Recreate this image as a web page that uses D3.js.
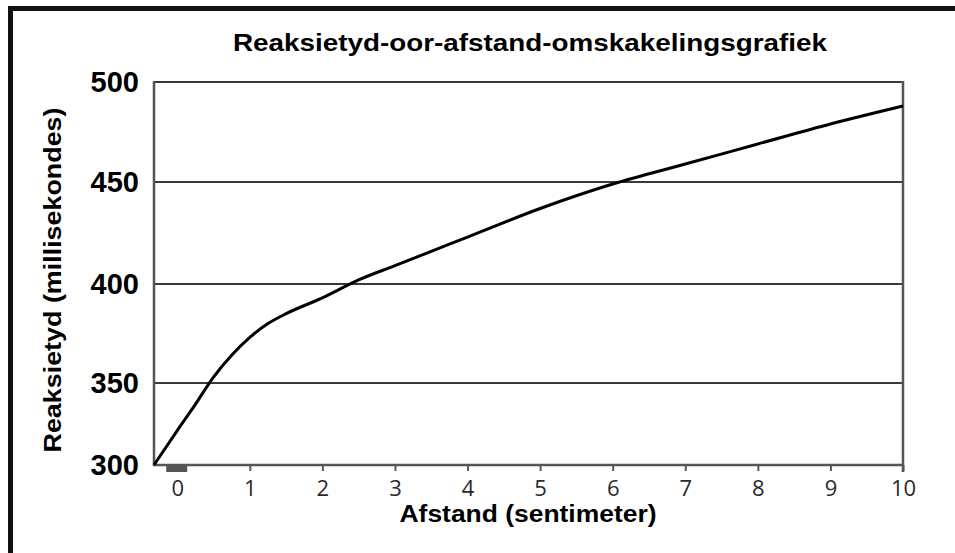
<!DOCTYPE html>
<html><head><meta charset="utf-8">
<script src="https://cdn.jsdelivr.net/npm/d3@7"></script>
<style>body{margin:0;background:#fff}svg{display:block}</style>
</head><body>
<svg id="c" width="955" height="553"></svg>
<script>
const title = "Reaksietyd-oor-afstand-omskakelingsgrafiek";
const xTitle = "Afstand (sentimeter)";
const yTitle = "Reaksietyd (millisekondes)";
const xTicks = [0,1,2,3,4,5,6,7,8,9,10];
const yTicks = [300,350,400,450,500];
const distance = [-0.32,0,0.25,0.5,0.75,1,1.25,1.5,2,2.5,3,3.5,4,5,6,7,8,9,10];
const reaction = [300,321,337,353,364,373,380,385,393,402,409,416,423,437,449,459,469,479,488];

const svg = d3.select("#c");
const x = d3.scaleLinear().domain([-0.32,10]).range([154,903]);
// the reference's vertical axis is not evenly spaced at the bottom
const y = d3.scaleLinear().domain(yTicks).range([465,383,284,182,82]);

// outer frame
svg.append("line").attr("x1",8).attr("x2",955).attr("y1",8.5).attr("y2",8.5).attr("stroke","#111").attr("stroke-width",5);
svg.append("line").attr("x1",10.5).attr("x2",10.5).attr("y1",6).attr("y2",553).attr("stroke","#111").attr("stroke-width",5);

// gridlines
svg.append("g").selectAll("line").data(yTicks.slice(1)).join("line")
  .attr("x1",154).attr("x2",903).attr("y1",d=>y(d)).attr("y2",d=>y(d))
  .attr("stroke","#3a3a3a").attr("stroke-width",2);

// plot frame
svg.append("line").attr("x1",154).attr("x2",154).attr("y1",81).attr("y2",466).attr("stroke","#555").attr("stroke-width",2.5);
svg.append("line").attr("x1",903).attr("x2",903).attr("y1",81).attr("y2",472).attr("stroke","#555").attr("stroke-width",2.5);
svg.append("line").attr("x1",153).attr("x2",904).attr("y1",465).attr("y2",465).attr("stroke","#555").attr("stroke-width",2.5);

// x axis ticks & labels
const xAxis = d3.axisBottom(x).tickValues(xTicks).tickSize(6).tickPadding(9).tickFormat(d3.format("d"));
const gx = svg.append("g").attr("transform","translate(0,465)").call(xAxis);
gx.select(".domain").remove();
gx.selectAll(".tick line").attr("stroke","#555").attr("stroke-width",2);
gx.selectAll(".tick text").attr("fill","#2a2a2a").attr("font-family","'Open Sans', sans-serif").attr("font-size",22);
// thick mark at zero
svg.append("rect").attr("x",x(0)-11).attr("y",466).attr("width",21).attr("height",6).attr("fill","#555");

// y labels
svg.append("g").selectAll("text").data(yTicks).join("text")
  .attr("x",139).attr("y",d=>y(d)).attr("dy","0.36em").attr("text-anchor","end")
  .attr("font-family","'Liberation Sans', Arial, sans-serif").attr("font-weight","bold").attr("font-size",29)
  .attr("fill","#000").text(d=>d);

// curve
const pts = distance.map((d,i)=>[d,reaction[i]]);
svg.append("path").datum(pts)
  .attr("d",d3.line().x(d=>x(d[0])).y(d=>y(d[1])).curve(d3.curveMonotoneX))
  .attr("fill","none").attr("stroke","#000").attr("stroke-width",3);

// titles
svg.append("text").attr("x",530).attr("y",51).attr("text-anchor","middle")
  .attr("font-family","'Liberation Sans', Arial, sans-serif").attr("font-weight","bold").attr("font-size",23)
  .attr("textLength",594).attr("lengthAdjust","spacingAndGlyphs")
  .text(title);
svg.append("text").attr("x",528).attr("y",522).attr("text-anchor","middle")
  .attr("font-family","'Liberation Sans', Arial, sans-serif").attr("font-weight","bold").attr("font-size",23)
  .attr("textLength",257).attr("lengthAdjust","spacingAndGlyphs")
  .text(xTitle);
svg.append("text").attr("transform","translate(61,280) rotate(-90)").attr("text-anchor","middle")
  .attr("font-family","'Liberation Sans', Arial, sans-serif").attr("font-weight","bold").attr("font-size",24)
  .attr("textLength",345).attr("lengthAdjust","spacingAndGlyphs")
  .text(yTitle);
</script>
</body></html>
